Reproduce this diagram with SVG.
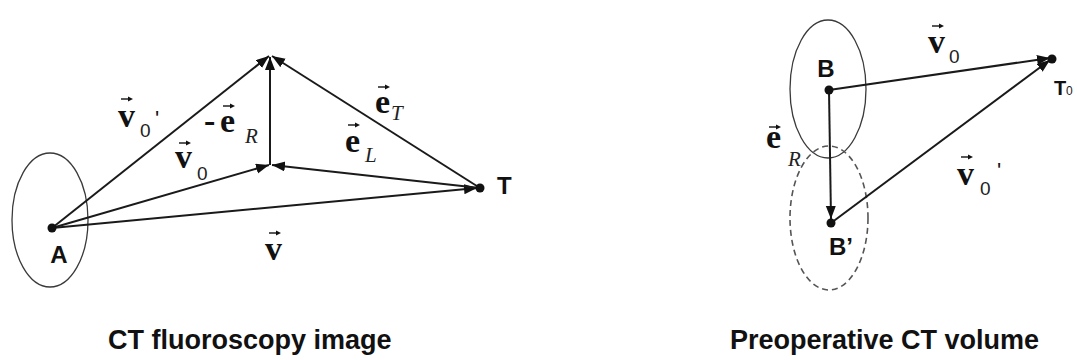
<svg xmlns="http://www.w3.org/2000/svg" width="1077" height="360" viewBox="0 0 1077 360">
<style>
.ln{stroke:#1a1a1a;stroke-width:2;fill:none;marker-end:url(#ah)}
.ell{fill:none;stroke:#3a3a3a;stroke-width:1.3}
.dash{fill:none;stroke:#555;stroke-width:1.6;stroke-dasharray:6 4}
.dot{fill:#111}
.lbl{font-family:"Liberation Sans",Arial,sans-serif;font-weight:bold;font-size:24px;fill:#111}
.cap{font-family:"Liberation Sans",Arial,sans-serif;font-weight:bold;font-size:27px;fill:#111}
.vec{font-family:"Liberation Serif","Times New Roman",serif;font-weight:bold;font-size:34px;fill:#111}
.sub0{font-family:"Liberation Sans",Arial,sans-serif;font-size:19px;fill:#222}
.subi{font-family:"Liberation Serif","Times New Roman",serif;font-style:italic;font-size:21px;fill:#222}
.pr{font-family:"Liberation Sans",Arial,sans-serif;font-size:22px;fill:#111}
</style>
<defs>
<marker id="ah" markerUnits="userSpaceOnUse" markerWidth="14" markerHeight="12" refX="13" refY="5" orient="auto">
<path d="M0,0 L13,5 L0,10 z" fill="#111"/>
</marker>
<g id="va">
<line x1="0" y1="0" x2="9" y2="0" stroke="#111" stroke-width="1.4"/>
<path d="M7,-2.5 L12,0 L7,2.5 z" fill="#111"/>
</g>
</defs>

<g id="ellipse-A"><ellipse class="ell" cx="50" cy="220" rx="38" ry="67"/></g>
<g id="ellipse-B"><ellipse class="ell" cx="828" cy="89" rx="38" ry="69"/></g>
<g id="ellipse-Bp"><ellipse class="dash" cx="829" cy="218" rx="39" ry="72"/></g>

<g id="connectors">
<line class="ln" x1="52" y1="228" x2="269" y2="56"/>
<line class="ln" x1="52" y1="228" x2="269" y2="165"/>
<line class="ln" x1="52" y1="228" x2="477" y2="188"/>
<line class="ln" x1="270" y1="165" x2="270" y2="57"/>
<line class="ln" x1="480" y1="188" x2="272" y2="56"/>
<line class="ln" x1="480" y1="188" x2="272" y2="165"/>
<line class="ln" x1="829" y1="90" x2="1050" y2="58"/>
<line class="ln" x1="829" y1="90" x2="831" y2="219"/>
<line class="ln" x1="831" y1="223" x2="1050" y2="60"/>
</g>

<g id="node-A"><circle class="dot" cx="52" cy="228" r="4.5"/><text class="lbl" x="59" y="263" text-anchor="middle">A</text></g>
<g id="node-T"><circle class="dot" cx="480" cy="188" r="4.5"/><text class="lbl" x="497" y="194">T</text></g>
<g id="node-B"><circle class="dot" cx="829" cy="90" r="4.5"/><text class="lbl" x="826" y="77" text-anchor="middle">B</text></g>
<g id="node-Bp"><circle class="dot" cx="831" cy="223" r="4.5"/><text class="lbl" x="829" y="255">B’</text></g>
<g id="node-T0"><circle class="dot" cx="1052" cy="59" r="4.5"/><text class="lbl" x="1054" y="95" style="font-size:20px">T</text><text class="sub0" x="1066" y="95" style="font-size:12px">0</text></g>

<g id="labels">
<g id="lbl-v0p-left"><text class="vec" x="118" y="127">v</text><use href="#va" x="121" y="99"/><text class="sub0" x="140" y="137">0</text><text class="pr" x="155" y="126">'</text></g>
<g id="lbl-eR-left"><text class="vec" x="204" y="132">-</text><text class="vec" x="220" y="132">e</text><use href="#va" x="223" y="106"/><text class="subi" x="245" y="143">R</text></g>
<g id="lbl-v0-left"><text class="vec" x="175" y="168">v</text><use href="#va" x="179" y="143"/><text class="sub0" x="197" y="180">0</text></g>
<g id="lbl-eT"><text class="vec" x="375" y="113">e</text><use href="#va" x="378" y="87"/><text class="subi" x="391" y="120">T</text></g>
<g id="lbl-eL"><text class="vec" x="345" y="152">e</text><use href="#va" x="348" y="125"/><text class="subi" x="365" y="162">L</text></g>
<g id="lbl-v"><text class="vec" x="265" y="260">v</text><use href="#va" x="269" y="233"/></g>
<g id="lbl-v0-right"><text class="vec" x="928" y="53">v</text><use href="#va" x="932" y="26"/><text class="sub0" x="949" y="63">0</text></g>
<g id="lbl-eR-right"><text class="vec" x="766" y="148">e</text><use href="#va" x="769" y="127"/><text class="subi" x="788" y="166">R</text></g>
<g id="lbl-v0p-right"><text class="vec" x="957" y="185">v</text><use href="#va" x="961" y="157"/><text class="sub0" x="980" y="195">0</text><text class="pr" x="997" y="178">'</text></g>
</g>

<g id="captions">
<text class="cap" x="108" y="349">CT fluoroscopy image</text>
<text class="cap" x="730" y="349">Preoperative CT volume</text>
</g>
</svg>
